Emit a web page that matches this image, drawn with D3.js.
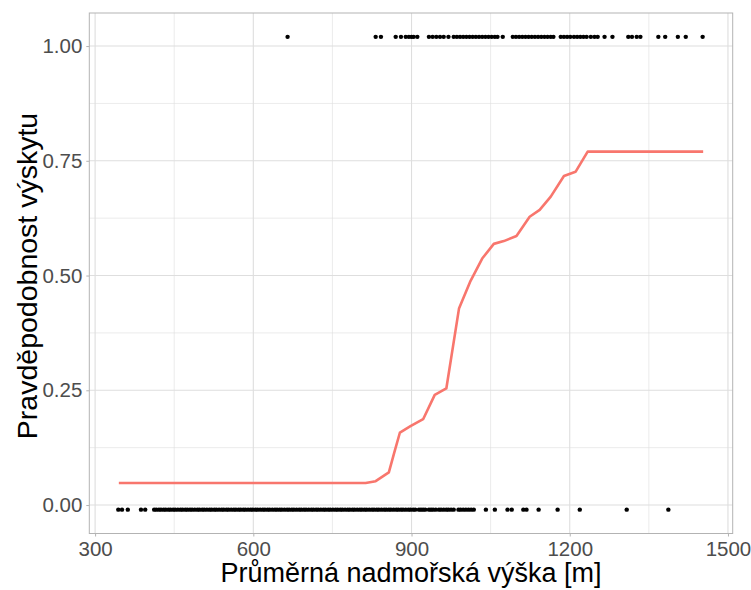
<!DOCTYPE html>
<html><head><meta charset="utf-8">
<script src="https://cdn.jsdelivr.net/npm/d3@7"></script>
<style>body{margin:0;background:#fff}svg{display:block}text{font-family:"Liberation Sans",Arial,sans-serif}</style>
</head><body><svg id="c" width="751" height="590"></svg>
<script>
// Observed presence (1) elevations [m]
const presentElev = [665, 832, 842, 870, 880, 889, 895, 900, 904, 911, 933, 940, 947, 954, 961, 970, 980, 986, 992, 998, 1004, 1010, 1016, 1022, 1028, 1034, 1040, 1046, 1052, 1058, 1063, 1073, 1092, 1098, 1104, 1110, 1116, 1122, 1128, 1134, 1140, 1146, 1152, 1158, 1164, 1169, 1183, 1189, 1195, 1201, 1208, 1214, 1220, 1226, 1232, 1240, 1247, 1253, 1266, 1281, 1311, 1318, 1327, 1334, 1368, 1381, 1405, 1420, 1452];
// Observed absence (0) elevations [m]
const absentElev = [344, 351, 362, 387, 395, 412, 416, 421, 425, 430, 434, 439, 443, 448, 452, 457, 462, 466, 471, 475, 480, 484, 489, 494, 498, 503, 507, 512, 517, 521, 526, 530, 535, 540, 544, 549, 553, 558, 563, 567, 572, 576, 581, 585, 590, 595, 599, 604, 608, 613, 618, 622, 627, 631, 636, 641, 645, 650, 654, 659, 664, 668, 673, 677, 682, 687, 691, 696, 700, 705, 710, 714, 719, 723, 728, 733, 737, 742, 746, 751, 756, 760, 765, 769, 774, 779, 783, 788, 792, 797, 802, 806, 811, 815, 820, 825, 829, 834, 838, 843, 848, 852, 857, 861, 866, 871, 875, 880, 884, 889, 894, 898, 903, 907, 914, 918, 922, 926, 933, 937, 941, 946, 952, 956, 961, 966, 970, 975, 980, 989, 993, 998, 1003, 1008, 1013, 1018, 1041, 1058, 1082, 1090, 1112, 1118, 1141, 1177, 1219, 1308, 1387];
// Fitted probability curve
const curveElev = [345, 813, 832, 857, 867, 878, 898, 922, 944, 966, 990, 1011, 1034, 1056, 1075, 1099, 1124, 1143, 1164, 1189, 1211, 1234, 1453];
const curveProb = [0.048, 0.048, 0.052, 0.071, 0.113, 0.158, 0.172, 0.187, 0.240, 0.254, 0.428, 0.486, 0.537, 0.569, 0.575, 0.586, 0.628, 0.643, 0.672, 0.717, 0.726, 0.770, 0.770];
const xTicks = [300, 600, 900, 1200, 1500];
const xMinor = [450, 750, 1050, 1350];
const yTicks = [0, 0.25, 0.5, 0.75, 1];
const yMinor = [0.125, 0.375, 0.625, 0.875];

const svg = d3.select("#c");
const L = 89.3, R = 732.7, T = 13, B = 533.5;
const x = d3.scaleLinear().domain([289, 1509]).range([L, R]);
const y = d3.scaleLinear().domain([-0.062, 1.072]).range([B, T]);

const grid = svg.append("g");
grid.selectAll(".xm").data(xMinor).join("line").attr("x1", d => x(d)).attr("x2", d => x(d)).attr("y1", T).attr("y2", B).attr("stroke", "#DEDEDE").attr("stroke-width", 0.6);
grid.selectAll(".ym").data(yMinor).join("line").attr("y1", d => y(d)).attr("y2", d => y(d)).attr("x1", L).attr("x2", R).attr("stroke", "#DEDEDE").attr("stroke-width", 0.6);
grid.selectAll(".xM").data(xTicks).join("line").attr("x1", d => x(d)).attr("x2", d => x(d)).attr("y1", T).attr("y2", B).attr("stroke", "#DEDEDE").attr("stroke-width", 1.1);
grid.selectAll(".yM").data(yTicks).join("line").attr("y1", d => y(d)).attr("y2", d => y(d)).attr("x1", L).attr("x2", R).attr("stroke", "#DEDEDE").attr("stroke-width", 1.1);

// axes
const xAxis = svg.append("g").attr("transform", `translate(0,${B})`)
  .call(d3.axisBottom(x).tickValues(xTicks).tickSize(3).tickPadding(5).tickFormat(d3.format("d")));
const yAxis = svg.append("g").attr("transform", `translate(${L},0)`)
  .call(d3.axisLeft(y).tickValues(yTicks).tickSize(3).tickPadding(4).tickFormat(d3.format(".2f")));
[xAxis, yAxis].forEach(a => {
  a.select(".domain").remove();
  a.selectAll(".tick line").attr("stroke", "#B3B3B3").attr("stroke-width", 1);
  a.selectAll(".tick text").attr("fill", "#4D4D4D").style("font-size", "20.5px").style("font-family", "'Liberation Sans',Arial,sans-serif");
});

// panel border
svg.append("rect").attr("x", L).attr("y", T).attr("width", R - L).attr("height", B - T).attr("fill", "none").attr("stroke", "#B3B3B3").attr("stroke-width", 1);

// points (drawn with a small vertical nudge as in the original)
const pts = svg.append("g");
pts.selectAll(".p1").data(presentElev).join("circle").attr("cx", d => x(d)).attr("cy", y(1.02)).attr("r", 2.2).attr("fill", "#000");
pts.selectAll(".p0").data(absentElev).join("circle").attr("cx", d => x(d)).attr("cy", y(-0.01)).attr("r", 2.2).attr("fill", "#000");

// curve
const line = d3.line().x(i => x(curveElev[i])).y(i => y(curveProb[i]));
svg.append("path").attr("d", line(d3.range(curveElev.length))).attr("fill", "none").attr("stroke", "#F8766D").attr("stroke-width", 2.6).attr("stroke-linejoin", "round");

// titles
svg.append("text").attr("x", (L + R) / 2).attr("y", 582).attr("text-anchor", "middle").style("font-size", "27px").attr("fill", "#000").text("Průměrná nadmořská výška [m]");
svg.append("text").attr("transform", `translate(37,276) rotate(-90)`).attr("text-anchor", "middle").style("font-size", "28.5px").attr("fill", "#000").text("Pravděpodobnost výskytu");
</script></body></html>
